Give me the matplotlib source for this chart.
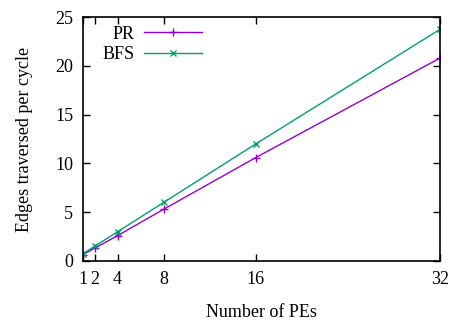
import matplotlib
matplotlib.use("Agg")
import matplotlib.pyplot as plt

plt.rcParams['font.family'] = ['Liberation Serif', 'DejaVu Serif']
plt.rcParams['font.size'] = 13

pes = [1, 2, 4, 8, 16, 32]
pr = [0.65, 1.3, 2.6, 5.3, 10.6, 20.8]
bfs = [0.75, 1.5, 3.0, 6.0, 12.0, 23.75]

fig = plt.figure(figsize=(4.56, 3.23), dpi=100)
ax = fig.add_axes([0.182, 0.192, 0.783, 0.755])

ax.plot(pes, pr, color='#9400d3', marker='+', markersize=6, lw=1, label='PR')
ax.plot(pes, bfs, color='#009e73', marker='x', markersize=4.5, lw=1, label='BFS')

ax.set_xlim(1, 32)
ax.set_ylim(0, 25)
ax.set_xticks(pes)
ax.set_yticks([0, 5, 10, 15, 20, 25])
ax.tick_params(direction='in', top=True, right=True, length=5, width=1, pad=7)
for s in ax.spines.values():
    s.set_linewidth(1.2)

ax.set_xlabel('Number of PEs', labelpad=12)
ax.set_ylabel('Edges traversed per cycle', labelpad=16)

leg = ax.legend(loc='upper left', frameon=False, markerfirst=False,
                handlelength=3.2, handletextpad=0.5, borderaxespad=0.2,
                labelspacing=0.2, bbox_to_anchor=(0.025, 1.01))
for t in leg.get_texts():
    t.set_ha('right')

fig.savefig('out.png', dpi=100)
